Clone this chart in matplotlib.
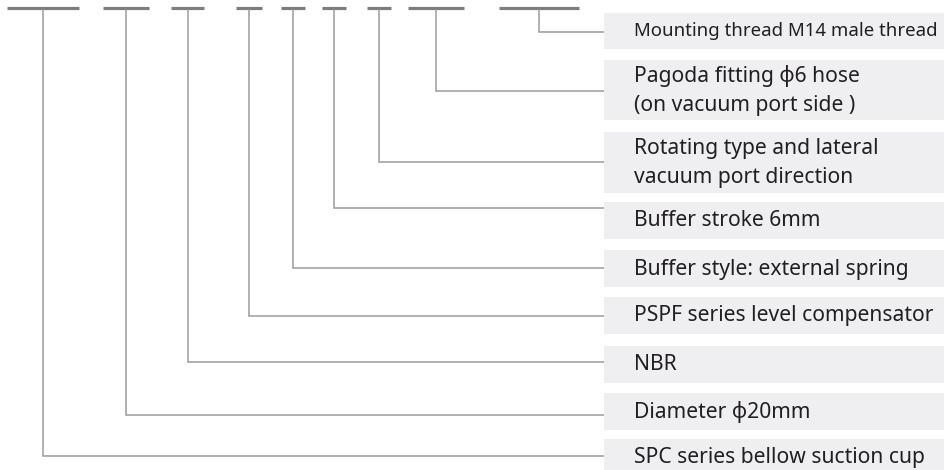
import matplotlib.pyplot as plt
from matplotlib.patches import Rectangle

# labels, top to bottom
labels = [
    "Mounting thread M14 male thread",
    "Pagoda fitting \u03d56 hose\n(on vacuum port side )",
    "Rotating type and lateral\nvacuum port direction",
    "Buffer stroke 6mm",
    "Buffer style: external spring",
    "PSPF series level compensator",
    "NBR",
    "Diameter \u03d520mm",
    "SPC series bellow suction cup",
]

# code segments along the top (pixel x ranges), left to right
segments = [(7, 79), (103, 149), (171, 204), (236, 262), (281, 305),
            (322, 346), (367, 391), (408, 464), (499, 579)]

# label boxes (pixel y ranges) and where the leader line joins each box
boxes = [(13, 49), (60, 120), (132, 193), (202, 239), (250, 287),
         (297, 334), (346, 383), (393, 430), (439, 476)]
join_y = [32, 91, 162, 208, 268, 316, 362, 415, 456]

W, H = 945, 470
BOX_X = 604
TEXT_X = 634

fig = plt.figure(figsize=(W / 100, H / 100), dpi=100)
ax = fig.add_axes([0, 0, 1, 1])
ax.set_xlim(0, W)
ax.set_ylim(H, 0)
ax.axis("off")

line_col = "#9b9b9b"
bar_col = "#7d7d7d"
text_col = "#231f20"

for (x0, x1) in segments:
    ax.plot([x0, x1], [7.5, 7.5], color=bar_col, lw=2.3, solid_capstyle="butt")

# leftmost segment belongs to the bottom label
for i, (x0, x1) in enumerate(segments):
    j = len(labels) - 1 - i
    xm = (x0 + x1) / 2
    y = join_y[j]
    ax.plot([xm, xm, BOX_X], [9, y, y], color=line_col, lw=1.1,
            solid_joinstyle="miter", solid_capstyle="butt")

for i, lab in enumerate(labels):
    y0, y1 = boxes[i]
    ax.add_patch(Rectangle((BOX_X, y0), W - BOX_X, y1 - y0,
                           facecolor="#efeff1", edgecolor="none"))
    size = 13.4 if i == 0 else 15.2
    ax.text(TEXT_X, (y0 + y1) / 2 + 0.5, lab, fontsize=size, color=text_col,
            family=["Noto Sans", "DejaVu Sans"], va="center", ha="left",
            linespacing=1.52)

fig.savefig("out.png", dpi=100)
